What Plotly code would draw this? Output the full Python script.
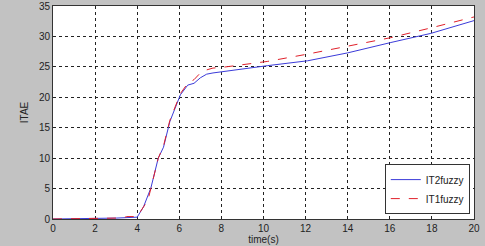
import plotly.graph_objects as go

t_it2 = [0, 1, 2, 3, 3.5, 4.0, 4.3, 4.5, 4.65, 5.0, 5.25, 5.55, 6.05, 6.4, 6.7, 7.0, 7.3, 7.6, 8.0, 9.4, 10.2, 12.1, 14.0, 16.05, 17.95, 20]
y_it2 = [0, 0, 0.1, 0.15, 0.2, 0.3, 2.0, 3.6, 5.1, 10.0, 11.8, 16.0, 20.4, 22.0, 22.3, 23.2, 23.8, 24.0, 24.2, 24.8, 25.2, 26.0, 27.3, 29.0, 30.5, 32.6]

t_it1 = [0, 1, 2, 3, 3.35, 3.5, 4.0, 4.3, 4.5, 4.65, 5.0, 5.25, 5.55, 6.05, 6.4, 6.7, 7.0, 7.3, 7.6, 8.0, 9.4, 10.2, 12.1, 14.0, 16.05, 17.95, 20]
y_it1 = [0, 0, 0.1, 0.15, 0.2, 0.4, 0.4, 2.0, 3.0, 5.0, 10.0, 12.0, 16.2, 20.6, 22.3, 22.9, 24.0, 24.5, 24.8, 24.9, 25.6, 25.9, 27.1, 28.4, 29.8, 31.4, 33.2]

x_ticks = list(range(0, 21, 2))
y_ticks = list(range(0, 36, 5))

FONT = "Liberation Sans"

fig = go.Figure()
fig.add_trace(go.Scatter(x=t_it2, y=y_it2, mode="lines", name="IT2fuzzy",
                         line=dict(color="#3b3bd9", width=1)))
fig.add_trace(go.Scatter(x=t_it1, y=y_it1, mode="lines", name="IT1fuzzy",
                         line=dict(color="#e0202a", width=1, dash="dash")))

axis_common = dict(showgrid=True, gridcolor="#222222", griddash="dot", gridwidth=1,
                   showline=True, linecolor="#333333", linewidth=1, mirror=True,
                   zeroline=False, ticks="", tickfont=dict(family=FONT, size=10, color="#222222"))

fig.update_xaxes(range=[0, 20], tickvals=x_ticks,
                 title=dict(text="time(s)", font=dict(family=FONT, size=10, color="#222222"), standoff=2),
                 **axis_common)
fig.update_yaxes(range=[0, 35], tickvals=y_ticks,
                 title=dict(text="ITAE", font=dict(family=FONT, size=10, color="#222222"), standoff=8),
                 **axis_common)

fig.update_layout(
    width=485, height=246,
    margin=dict(l=53, r=11, t=6, b=27, autoexpand=False),
    paper_bgcolor="#c2c2c2", plot_bgcolor="white",
    showlegend=True,
    legend=dict(x=0.99, y=0.023, xanchor="right", yanchor="bottom",
                bgcolor="white", bordercolor="#333333", borderwidth=1,
                font=dict(family=FONT, size=10, color="#222222"),
                tracegroupgap=0, itemwidth=30),
)

fig.write_html("out.html", config={"displayModeBar": False},
               post_script="document.body.style.margin='0';document.body.style.background='#c2c2c2';")
